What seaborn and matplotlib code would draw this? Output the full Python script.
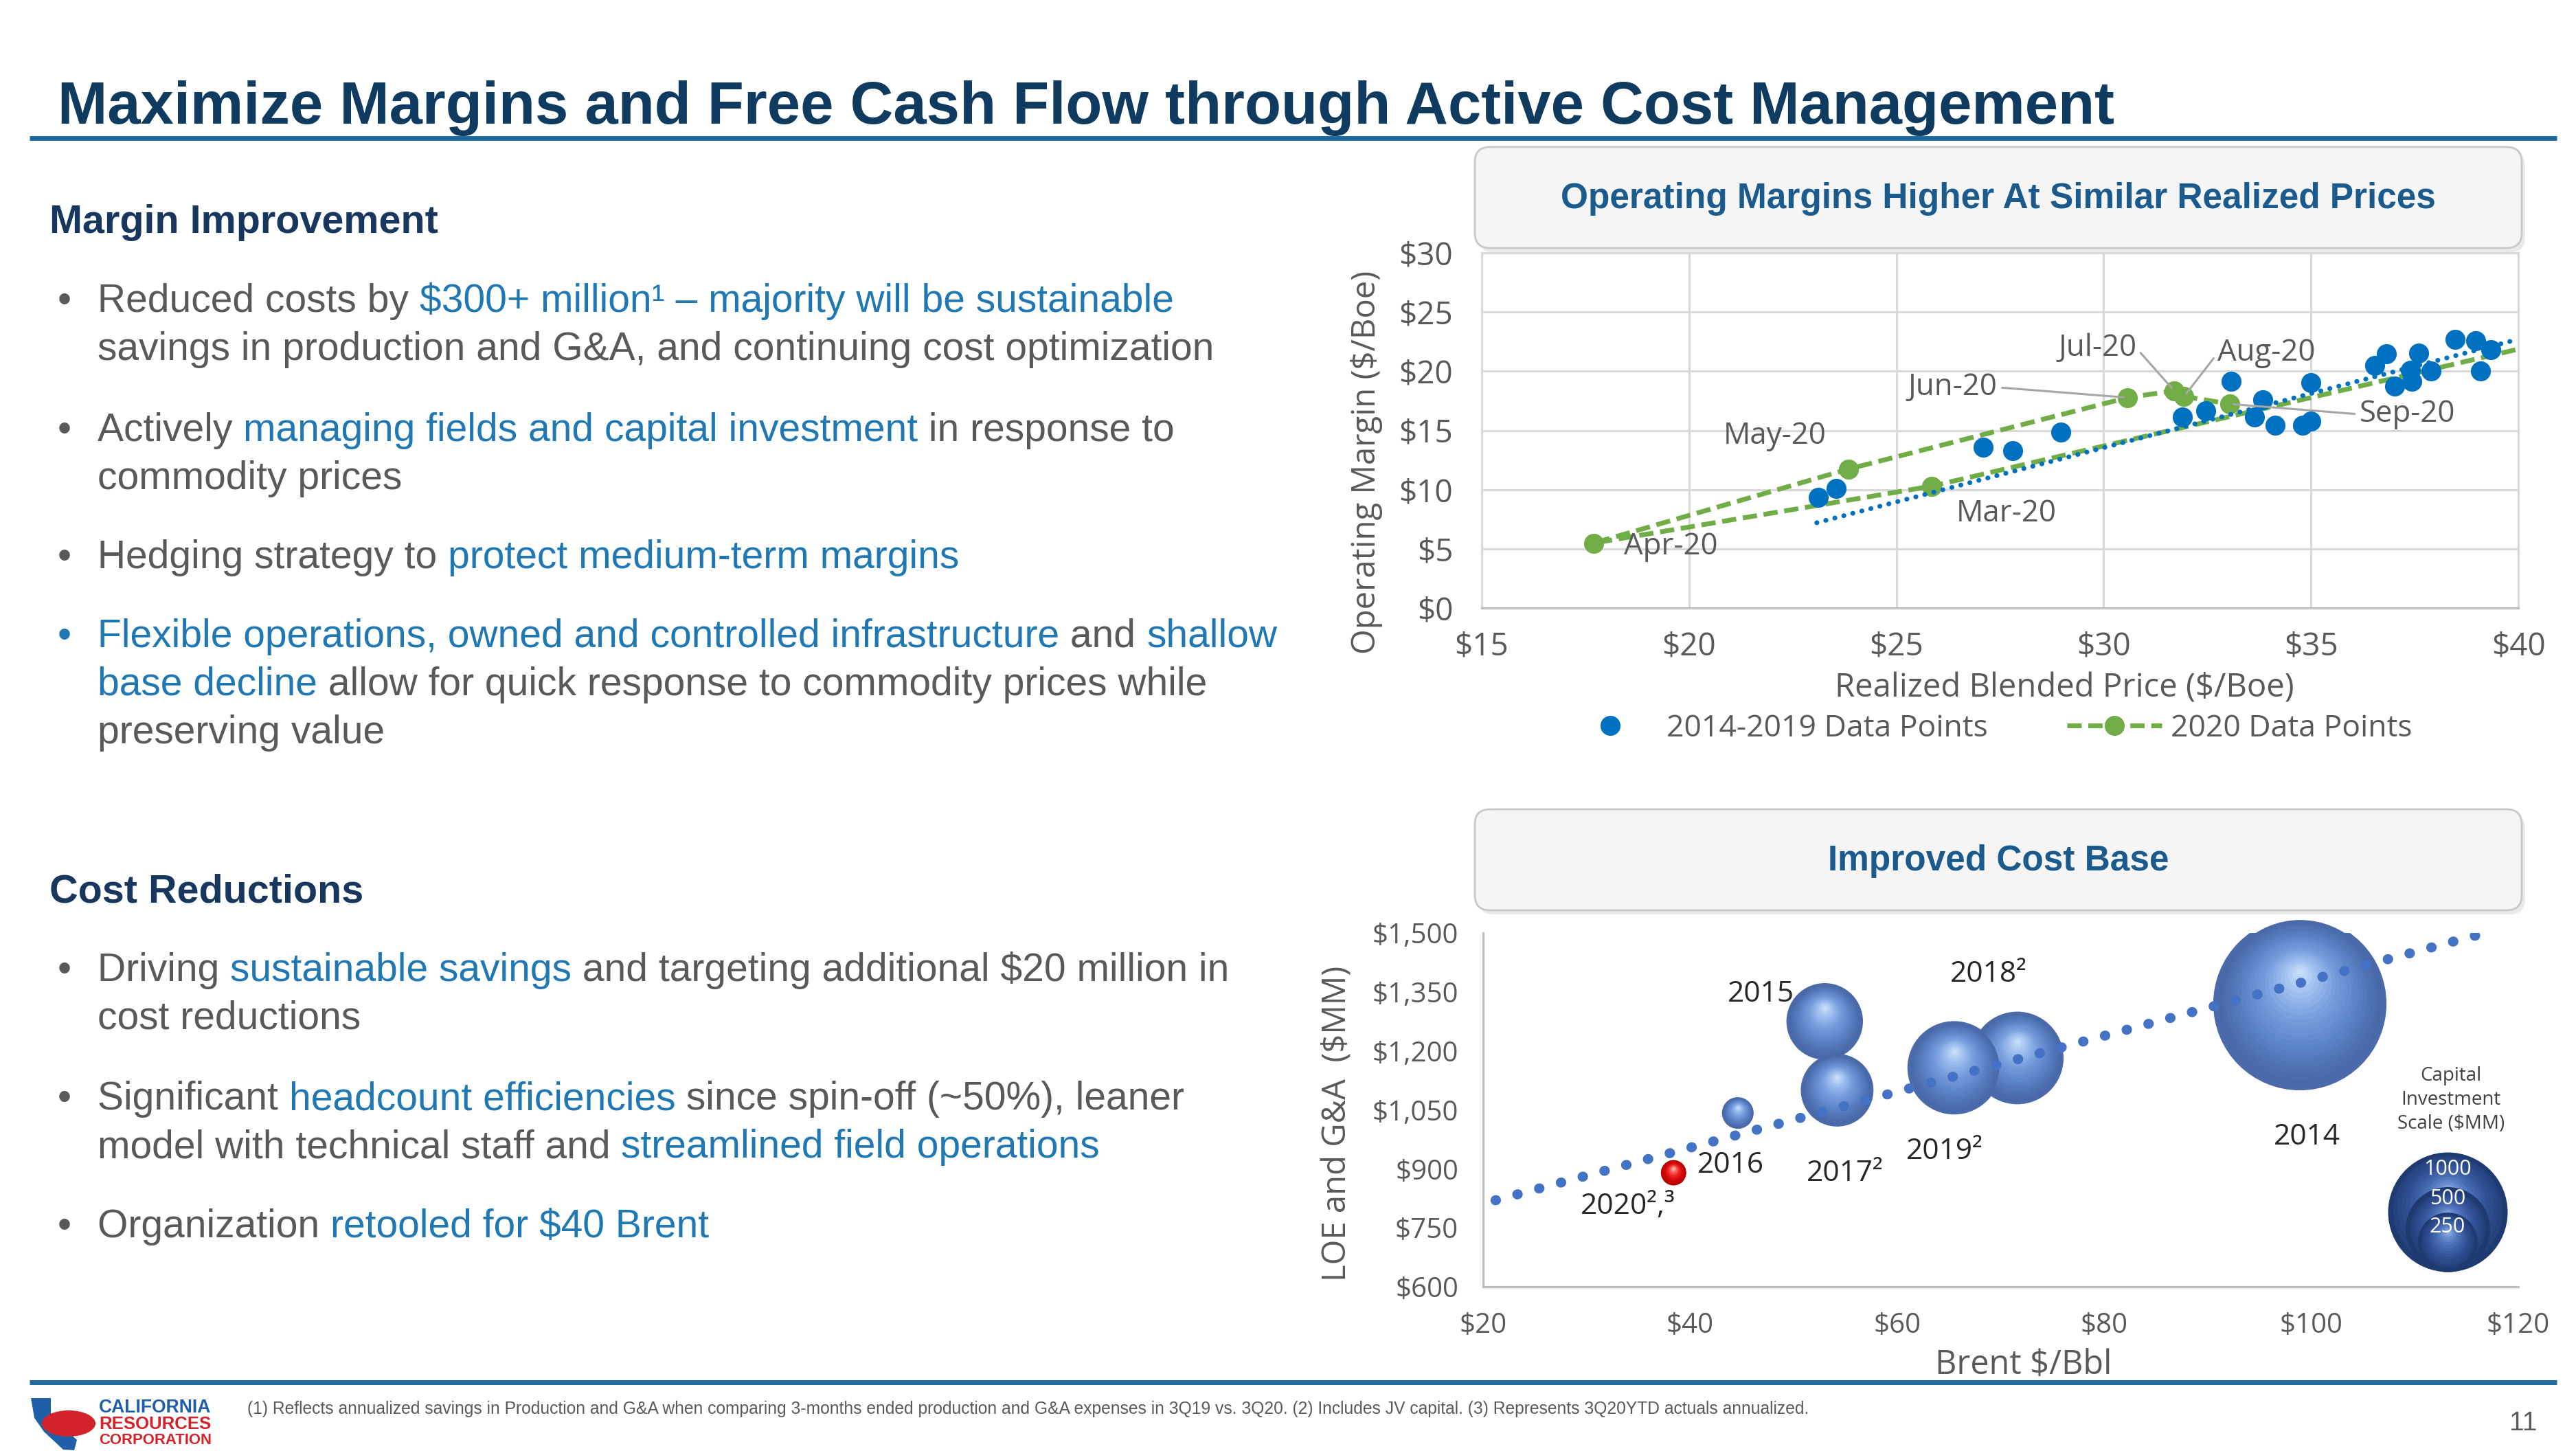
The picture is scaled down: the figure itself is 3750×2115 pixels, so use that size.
import matplotlib
matplotlib.use("Agg")
import numpy as np
import pandas as pd
import matplotlib.pyplot as plt
import seaborn as sns
from matplotlib import font_manager as fm
from matplotlib.patches import FancyBboxPatch, Polygon, Ellipse
from matplotlib.lines import Line2D
import matplotlib.transforms as mtrans
from matplotlib.colors import LinearSegmentedColormap

# ---------------- data: operating margin vs realized price ----------------
hist_price = [23.12, 23.55, 27.10, 27.80, 28.97, 31.90, 32.46, 33.07, 33.64, 33.84,
              34.13, 34.79, 35.00, 35.00, 36.53, 36.82, 37.02, 37.40, 37.44, 37.60,
              37.90, 38.47, 38.97, 39.09, 39.34]
hist_margin = [9.33, 10.10, 13.56, 13.27, 14.86, 16.12, 16.65, 19.13, 16.12, 17.58,
               15.45, 15.45, 15.80, 19.03, 20.48, 21.45, 18.74, 20.10, 19.13, 21.55,
               20.00, 22.71, 22.60, 20.00, 21.84]
# 2020 monthly points (Feb-20 lies beyond the $40 axis limit, only its line shows)
m2020_month = ["Feb-20", "Mar-20", "Apr-20", "May-20", "Jun-20", "Jul-20", "Aug-20", "Sep-20"]
m2020_price = [42.00, 25.85, 17.70, 23.84, 30.58, 31.70, 31.94, 33.04]
m2020_margin = [23.50, 10.29, 5.48, 11.73, 17.77, 18.35, 17.87, 17.23]
# 2014-2019 trendline end points
hist_trend_price = [23.08, 40.00]
hist_trend_margin = [7.20, 22.70]

price_ticks = [15, 20, 25, 30, 35, 40]
margin_ticks = [0, 5, 10, 15, 20, 25, 30]

# ---------------- data: cost base bubbles ----------------
bubble_year = ["2014", "2015", "2016", "2017²", "2018²", "2019²", "2020²,³"]
bubble_brent = [98.9, 53.0, 44.6, 54.2, 71.6, 65.5, 38.4]
bubble_cost = [1320, 1275, 1042, 1100, 1182, 1157, 890]
bubble_capital = [2100, 410, 70, 370, 600, 610, 45]
cost_trend_brent = [21.2, 117.5]
cost_trend_cost = [820, 1505]
scale_capital = [1000, 500, 250]
brent_ticks = [20, 40, 60, 80, 100, 120]
cost_ticks = [600, 750, 900, 1050, 1200, 1350, 1500]

# ---------------- figure ----------------
W, H, DPI = 3750, 2115, 100
sns.set_theme(style="white")
names = {f.name for f in fm.fontManager.ttflist}
BODY = ["Liberation Sans", "DejaVu Sans"]
NARROW = (["Liberation Sans Narrow"] if "Liberation Sans Narrow" in names else []) + BODY
CHART = ["Open Sans", "DejaVu Sans"]
plt.rcParams["font.family"] = CHART

fig = plt.figure(figsize=(W / DPI, H / DPI), dpi=DPI)
fig.patch.set_facecolor("white")
PX = 72.0 / DPI  # points per pixel

ov = fig.add_axes([0, 0, 1, 1], zorder=0)
ov.set_xlim(0, W)
ov.set_ylim(H, 0)
ov.axis("off")
ov.patch.set_alpha(0)
renderer = fig.canvas.get_renderer()

GREY = "#595959"
BLUE_T = "#1f78b4"
NAVY = "#0f3b60"


def text_width(s, **kw):
    t = ov.text(0, 0, "|" + s + "|", **kw)
    w1 = t.get_window_extent(renderer).width
    t.remove()
    t = ov.text(0, 0, "||", **kw)
    w2 = t.get_window_extent(renderer).width
    t.remove()
    return w1 - w2


def fit_text(x, y, s, width, size0, **kw):
    w = text_width(s, fontsize=size0, **kw)
    size = size0 * width / w
    return ov.text(x, y, s, fontsize=size, **kw), size


def rich(x, y, parts, size, family=BODY):
    cur = x
    for s, c in parts:
        ov.text(cur, y, s, color=c, fontsize=size, family=family, va="baseline", ha="left")
        cur += text_width(s, fontsize=size, family=family)


# title + rules
fit_text(84, 180, "Maximize Margins and Free Cash Flow through Active Cost Management",
         2998, 60, family=NARROW, fontweight="bold", color=NAVY, va="baseline")
ov.plot([43, 3722], [201, 201], color="#1f6a9f", lw=5, solid_capstyle="butt")
ov.plot([43, 3722], [2012, 2012], color="#1f6a9f", lw=5, solid_capstyle="butt")

# headings
_, hsize = fit_text(72, 339, "Margin Improvement", 565, 38, family=BODY,
                    fontweight="bold", color="#17375e", va="baseline")
ov.text(72, 1313, "Cost Reductions", fontsize=hsize, family=BODY, fontweight="bold",
        color="#17375e", va="baseline")

BS = 41  # body size
bullets = [
    (454, GREY, [("Reduced costs by ", GREY), ("$300+ million¹ – majority will be sustainable", BLUE_T)]),
    (524, None, [("savings in production and G&A, and continuing cost optimization", GREY)]),
    (642, GREY, [("Actively ", GREY), ("managing fields and capital investment", BLUE_T), (" in response to", GREY)]),
    (712, None, [("commodity prices", GREY)]),
    (827, GREY, [("Hedging strategy to ", GREY), ("protect medium-term margins", BLUE_T)]),
    (942, BLUE_T, [("Flexible operations, owned and controlled infrastructure", BLUE_T), (" and ", GREY), ("shallow", BLUE_T)]),
    (1012, None, [("base decline", BLUE_T), (" allow for quick response to commodity prices while", GREY)]),
    (1082, None, [("preserving value", GREY)]),
    (1428, GREY, [("Driving ", GREY), ("sustainable savings", BLUE_T), (" and targeting additional $20 million in", GREY)]),
    (1498, None, [("cost reductions", GREY)]),
    (1615, GREY, [("Significant ", GREY), ("headcount efficiencies", BLUE_T), (" since spin-off (~50%), leaner", GREY)]),
    (1685, None, [("model with technical staff and ", GREY), ("streamlined field operations", BLUE_T)]),
    (1801, GREY, [("Organization ", GREY), ("retooled for $40 Brent", BLUE_T)]),
]
for y, bcol, parts in bullets:
    if bcol is not None:
        ov.text(84, y, "•", fontsize=BS, family=BODY, color=bcol, va="baseline")
    rich(142, y, parts, BS)

# footer
fit_text(360, 2058, "(1) Reflects annualized savings in Production and G&A when comparing 3-months ended "
         "production and G&A expenses in 3Q19 vs. 3Q20. (2) Includes JV capital. (3) Represents 3Q20YTD actuals annualized.",
         2296, 14, family=NARROW, color=GREY, va="baseline")
ov.text(3673, 2072, "11", fontsize=28, family=BODY, color=GREY, ha="center", va="center")
# logo
ov.add_patch(Polygon([[45, 2035], [74, 2035], [74, 2062], [112, 2096], [108, 2111], [92, 2110],
                      [64, 2084], [50, 2064]], closed=True, fc="#1f5fa8", ec="none"))
ov.add_patch(Ellipse((100, 2072), 78, 38, fc="#d2232a", ec="none"))
fit_text(144, 2056, "CALIFORNIA", 164, 16, family=NARROW, fontweight="bold", color="#1f5fa8", va="baseline")
fit_text(144, 2080, "RESOURCES", 164, 16, family=NARROW, fontweight="bold", color="#d2232a", va="baseline")
fit_text(144, 2102, "CORPORATION", 164, 14, family=NARROW, fontweight="bold", color="#d2232a", va="baseline")

# chart header boxes
for (y0, y1, label) in [(214, 361, "Operating Margins Higher At Similar Realized Prices"),
                        (1178, 1325, "Improved Cost Base")]:
    ov.add_patch(FancyBboxPatch((2152, y0 + 6), 1524, y1 - y0, boxstyle="round,pad=0,rounding_size=22",
                                fc="#dcdcdc", ec="none", alpha=0.6))
    ov.add_patch(FancyBboxPatch((2147, y0), 1524, y1 - y0, boxstyle="round,pad=0,rounding_size=22",
                                fc="#f5f5f5", ec="#c8c8c8", lw=2))
    ov.text(2909, (y0 + y1) / 2 + 2, label, fontsize=37, family=NARROW, fontweight="bold",
            color="#1b5a8c", ha="center", va="center")

# ---------------- top chart ----------------
ax1 = fig.add_axes([2157 / W, 1 - 885 / H, 1509 / W, 517 / H], zorder=2)
hist_df = pd.DataFrame({"price": hist_price, "margin": hist_margin})
m_df = pd.DataFrame({"month": m2020_month, "price": m2020_price, "margin": m2020_margin})
trend_df = pd.DataFrame({"price": hist_trend_price, "margin": hist_trend_margin})

BLUE_P = "#0070c0"
GREEN = "#70ad47"
sns.scatterplot(data=hist_df, x="price", y="margin", ax=ax1, color=BLUE_P, s=440,
                linewidth=0, zorder=4, legend=False)
sns.lineplot(data=trend_df, x="price", y="margin", ax=ax1, color=BLUE_P, lw=5,
             linestyle=(0, (0.05, 1.9)), dash_capstyle="round", zorder=5, legend=False)
sns.lineplot(data=m_df, x="price", y="margin", ax=ax1, sort=False, color=GREEN, lw=5,
             marker="o", markersize=21, markeredgewidth=0, zorder=3, legend=False)
ax1.lines[-1].set_dashes((3.0, 1.4))

ax1.set_xlim(15, 40)
ax1.set_ylim(0, 30)
ax1.set_xticks(price_ticks)
ax1.set_xticklabels([f"${v}" for v in price_ticks])
ax1.set_yticks(margin_ticks)
ax1.set_yticklabels([f"${v}" for v in margin_ticks])
ax1.grid(True, color="#d9d9d9", lw=2.3)
ax1.set_axisbelow(True)
for sp in ax1.spines.values():
    sp.set_color("#d9d9d9")
    sp.set_linewidth(2.3)
ax1.spines["bottom"].set_color("#bfbfbf")
ax1.tick_params(axis="both", length=0, labelsize=33, colors=GREY)
ax1.tick_params(axis="x", pad=24)
ax1.tick_params(axis="y", pad=30)
ax1.set_xlabel("Realized Blended Price ($/Boe)", fontsize=34, color=GREY)
ax1.set_ylabel("Operating Margin ($/Boe)", fontsize=34, color=GREY)
ax1.xaxis.set_label_coords(0.562, -0.18)
ax1.yaxis.set_label_coords(-0.0954, 0.41)

# month labels (offsets in pixels: dx right, dy up)
lab_style = {
    "Mar-20": (109, -40, None),
    "Apr-20": (112, -5, None),
    "May-20": (-107, 48, None),
    "Jun-20": (-255, 15, (1, 0.5)),
    "Jul-20": (-112, 62, (1, 0.5)),
    "Aug-20": (120, 63, (0, 0.5)),
    "Sep-20": (259, -15, (0, 0.5)),
}
for mo, px_, py_ in zip(m2020_month, m2020_price, m2020_margin):
    if mo not in lab_style:
        continue
    dx, dy, rel = lab_style[mo]
    kw = {}
    if rel is not None:
        kw["arrowprops"] = dict(arrowstyle="-", color="#a6a6a6", lw=2.2, shrinkA=3, shrinkB=4,
                                relpos=rel)
    ax1.annotate(mo, (px_, py_), xytext=(dx * PX, dy * PX), textcoords="offset points",
                 ha="center", va="center", fontsize=31.5, color=GREY, zorder=6, **kw)

h1 = Line2D([], [], color=BLUE_P, marker="o", linestyle="none", markersize=21, markeredgewidth=0)
h2 = Line2D([], [], color=GREEN, marker="o", lw=5, markersize=21, markeredgewidth=0)
h2.set_dashes((3.0, 1.4))
leg = ax1.legend([h1, h2], ["2014-2019 Data Points", "2020 Data Points"], loc="center",
                 bbox_to_anchor=(0.488, -0.339), ncol=2, frameon=False, fontsize=32,
                 handlelength=3.1, columnspacing=2.6, handletextpad=0.3)
for t in leg.get_texts():
    t.set_color(GREY)

# ---------------- bubble chart ----------------
ax2 = fig.add_axes([2159 / W, 1 - 1873 / H, 1507 / W, 515 / H], zorder=2)
ax2.patch.set_alpha(0)
b_df = pd.DataFrame({"year": bubble_year, "brent": bubble_brent, "cost": bubble_cost,
                     "capital": bubble_capital})
K = 15.7  # marker area (pt^2) per $MM of capital
cmin, cmax = min(bubble_capital), max(bubble_capital)
pal = {y: ("#b30000" if y.startswith("2020") else "#4a6aa9") for y in bubble_year}
sns.scatterplot(data=b_df, x="brent", y="cost", hue="year", palette=pal, size="capital",
                sizes=(K * cmin, K * cmax), size_norm=(cmin, cmax), ax=ax2, linewidth=0,
                legend=False, zorder=3)

cm_blue = LinearSegmentedColormap.from_list("b", ["#4767a6", "#5f85ca", "#7a9fde", "#a2c3f0", "#d2e6ff"])
cm_red = LinearSegmentedColormap.from_list("r", ["#b30000", "#dd0a0a", "#f03030", "#ff7a7a", "#ffd0d0"])
cm_navy = LinearSegmentedColormap.from_list("n", ["#22407a", "#34559a", "#4a6db5", "#6d8fd0", "#a9c4ef"])


def shade(ax, x, y, s, cmap, zorder, transform=None, n=22):
    R = np.sqrt(s) / 2.0
    base = ax.transData if transform is None else transform
    for k in range(1, n):
        f = 1 - k / n
        tr = mtrans.offset_copy(base, fig=fig, x=0, y=(1 - f) * 0.38 * R, units="points")
        ax.scatter([x], [y], s=s * f * f, color=cmap((1 - f) ** 1.3), transform=tr,
                   linewidths=0, zorder=zorder, clip_on=False)


for i, row in b_df.iterrows():
    cmap = cm_red if row["year"].startswith("2020") else cm_blue
    shade(ax2, row["brent"], row["cost"], K * row["capital"], cmap, 3 + i * 0.01)

ctr_df = pd.DataFrame({"brent": cost_trend_brent, "cost": cost_trend_cost})
sns.lineplot(data=ctr_df, x="brent", y="cost", ax=ax2, color="#4472c4", lw=10.5,
             linestyle=(0, (0.05, 2.2)), dash_capstyle="round", zorder=6, legend=False)

blab = {
    "2014": (10, -194), "2015": (-93, 40), "2016": (-10, -76), "2017²": (11, -121),
    "2018²": (-42, 122), "2019²": (-14, -122), "2020²,³": (-67, -49),
}
for yr, bx, by in zip(bubble_year, bubble_brent, bubble_cost):
    dx, dy = blab[yr]
    ax2.annotate(yr, (bx, by), xytext=(dx * PX, dy * PX), textcoords="offset points",
                 ha="center", va="center", fontsize=30.5, color="#262626", zorder=7)

ax2.set_xlim(20, 120)
ax2.set_ylim(600, 1500)
ax2.set_xticks(brent_ticks)
ax2.set_xticklabels([f"${v}" for v in brent_ticks])
ax2.set_yticks(cost_ticks)
ax2.set_yticklabels([f"${v:,}" for v in cost_ticks])
sns.despine(ax=ax2)
for sp in ["left", "bottom"]:
    ax2.spines[sp].set_color("#bfbfbf")
    ax2.spines[sp].set_linewidth(2.3)
ax2.tick_params(axis="both", length=0, labelsize=29, colors=GREY)
ax2.tick_params(axis="x", pad=26)
ax2.tick_params(axis="y", pad=26)
ax2.set_xlabel("Brent $/Bbl", fontsize=35, color=GREY)
ax2.set_ylabel("LOE and G&A  ($MM)", fontsize=34, color=GREY)
ax2.xaxis.set_label_coords(0.522, -0.173)
ax2.yaxis.set_label_coords(-0.1254, 0.462)

# capital investment scale legend (nested bubbles, bottom aligned)
lx, lb = 0.9317, 0.0427
for j, cap in enumerate(scale_capital):
    s = K * cap
    R = np.sqrt(s) / 2.0
    tr = mtrans.offset_copy(ax2.transAxes, fig=fig, x=0, y=R, units="points")
    ax2.scatter([lx], [lb], s=s, color="#1e3a70", transform=tr,
                linewidths=0, zorder=8 + j, clip_on=False)
    shade(ax2, lx, lb, s * (0.9 if j else 0.97), cm_navy, 8 + j + 0.5, transform=tr, n=14)
for txt, fy in zip(["1000", "500", "250"], [0.332, 0.249, 0.169]):
    ax2.text(lx, fy, txt, transform=ax2.transAxes, ha="center", va="center", fontsize=22,
             color="white", zorder=12)
ax2.text(0.935, 0.528, "Capital\nInvestment\nScale ($MM)", transform=ax2.transAxes,
         ha="center", va="center", fontsize=20, color="#404040", linespacing=1.35, zorder=12)

fig.savefig("out.png", dpi=DPI, facecolor="white")
